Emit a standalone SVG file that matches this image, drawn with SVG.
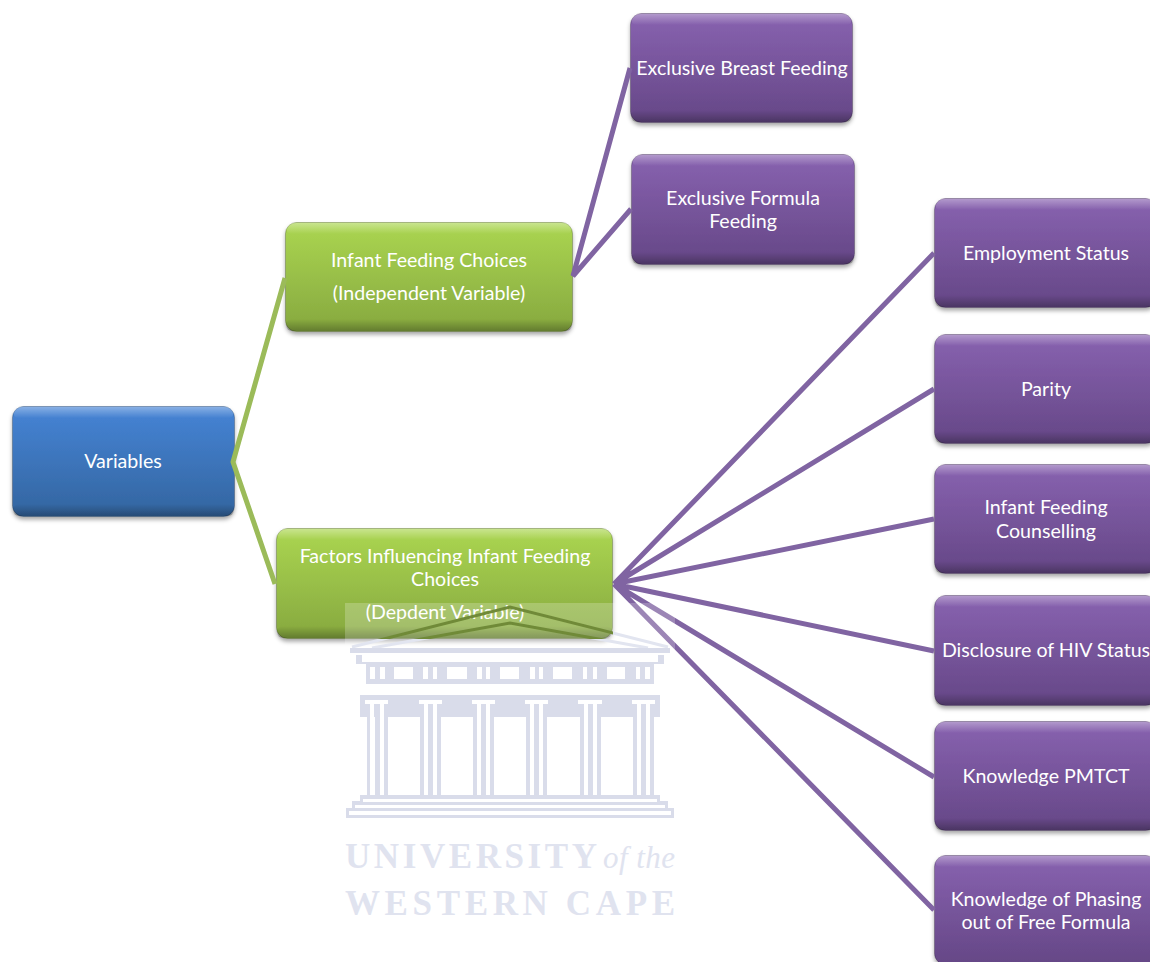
<svg xmlns="http://www.w3.org/2000/svg" width="1150" height="962" viewBox="0 0 1150 962">
<style>
text{font-family:"Lato","Open Sans","Liberation Sans",sans-serif;font-size:19.6px;fill:#fff;text-anchor:middle}
.c{fill:none;stroke-width:5;stroke-linecap:butt}
.g{stroke:#9bbb59}.p{stroke:#8064a2}
.n{stroke:#000;stroke-opacity:.22;stroke-width:1}
.hi{fill:url(#hi)}.lo{fill:url(#lo)}
.w{fill:#d9dcea}.wh{fill:#fff}
.wm{font-family:"Liberation Serif",serif;font-weight:700;fill:#e0e3ef;text-anchor:start;font-size:35px}
</style>
<defs>
<linearGradient id="blue" x1="0" y1="0" x2="0" y2="1"><stop offset="0" stop-color="#4684d6"/><stop offset="1" stop-color="#33659f"/></linearGradient>
<linearGradient id="green" x1="0" y1="0" x2="0" y2="1"><stop offset="0" stop-color="#abd651"/><stop offset="1" stop-color="#86a83f"/></linearGradient>
<linearGradient id="purple" x1="0" y1="0" x2="0" y2="1"><stop offset="0" stop-color="#8862b0"/><stop offset="1" stop-color="#654786"/></linearGradient>
<linearGradient id="hi" x1="0" y1="0" x2="0" y2="1"><stop offset="0" stop-color="#fff" stop-opacity=".35"/><stop offset="1" stop-color="#fff" stop-opacity="0"/></linearGradient>
<linearGradient id="lo" x1="0" y1="0" x2="0" y2="1"><stop offset="0" stop-color="#000" stop-opacity="0"/><stop offset="1" stop-color="#000" stop-opacity=".26"/></linearGradient>
<filter id="sh" x="-5%" y="-5%" width="110%" height="115%"><feDropShadow dx="0" dy="3" stdDeviation="2" flood-color="#000" flood-opacity=".35"/></filter>
<filter id="soft" x="-2%" y="-2%" width="104%" height="104%"><feGaussianBlur stdDeviation=".6"/></filter>
<clipPath id="onbox"><rect x="345" y="603" width="268" height="36"/></clipPath>
<clipPath id="offbox"><path d="M345 639H613V603H680V660H345Z"/></clipPath>
<g id="col"><rect x="0" y="0" width="4" height="88" class="w"/><rect x="8" y="0" width="5" height="88" class="w"/><rect x="17" y="0" width="4" height="88" class="w"/></g>
</defs>
<rect width="1150" height="962" fill="#fff"/>
<g id="variables"><rect class="n" x="12.500" y="406.500" width="222" height="110" rx="11" fill="url(#blue)" filter="url(#sh)"/><rect x="13" y="407" width="221" height="11" rx="6" class="hi"/><rect x="13" y="504" width="221" height="12" rx="6" class="lo"/><text x="123" y="468">Variables</text></g>
<g id="infant-feeding-choices"><rect class="n" x="285.500" y="222.500" width="287" height="109" rx="11" fill="url(#green)" filter="url(#sh)"/><rect x="286" y="223" width="286" height="11" rx="6" class="hi"/><rect x="286" y="319" width="286" height="12" rx="6" class="lo"/><text x="429" y="267">Infant Feeding Choices</text><text x="429" y="300">(Independent Variable)</text></g>
<g id="factors"><rect class="n" x="276.500" y="528.500" width="336" height="110" rx="11" fill="url(#green)" filter="url(#sh)"/><rect x="277" y="529" width="335" height="11" rx="6" class="hi"/><rect x="277" y="626" width="335" height="12" rx="6" class="lo"/><text x="445" y="563">Factors Influencing Infant Feeding</text><text x="445" y="586">Choices</text><text x="445" y="619">(Depdent Variable)</text></g>
<g id="exclusive-breast"><rect class="n" x="630.500" y="13.500" width="222" height="109" rx="11" fill="url(#purple)" filter="url(#sh)"/><rect x="631" y="14" width="221" height="11" rx="6" class="hi"/><rect x="631" y="110" width="221" height="12" rx="6" class="lo"/><text x="742" y="75">Exclusive Breast Feeding</text></g>
<g id="exclusive-formula"><rect class="n" x="631.500" y="154.500" width="223" height="110" rx="11" fill="url(#purple)" filter="url(#sh)"/><rect x="632" y="155" width="222" height="11" rx="6" class="hi"/><rect x="632" y="252" width="222" height="12" rx="6" class="lo"/><text x="743" y="205">Exclusive Formula</text><text x="743" y="228">Feeding</text></g>
<g id="employment"><rect class="n" x="934.500" y="198.500" width="222" height="109" rx="11" fill="url(#purple)" filter="url(#sh)"/><rect x="935" y="199" width="221" height="11" rx="6" class="hi"/><rect x="935" y="295" width="221" height="12" rx="6" class="lo"/><text x="1046" y="260">Employment Status</text></g>
<g id="parity"><rect class="n" x="934.500" y="334.500" width="222" height="109" rx="11" fill="url(#purple)" filter="url(#sh)"/><rect x="935" y="335" width="221" height="11" rx="6" class="hi"/><rect x="935" y="431" width="221" height="12" rx="6" class="lo"/><text x="1046" y="396">Parity</text></g>
<g id="counselling"><rect class="n" x="934.500" y="464.500" width="222" height="109" rx="11" fill="url(#purple)" filter="url(#sh)"/><rect x="935" y="465" width="221" height="11" rx="6" class="hi"/><rect x="935" y="561" width="221" height="12" rx="6" class="lo"/><text x="1046" y="514">Infant Feeding</text><text x="1046" y="538">Counselling</text></g>
<g id="disclosure"><rect class="n" x="934.500" y="595.500" width="222" height="110" rx="11" fill="url(#purple)" filter="url(#sh)"/><rect x="935" y="596" width="221" height="11" rx="6" class="hi"/><rect x="935" y="693" width="221" height="12" rx="6" class="lo"/><text x="1046" y="657">Disclosure of HIV Status</text></g>
<g id="pmtct"><rect class="n" x="934.500" y="721.500" width="222" height="109" rx="11" fill="url(#purple)" filter="url(#sh)"/><rect x="935" y="722" width="221" height="11" rx="6" class="hi"/><rect x="935" y="818" width="221" height="12" rx="6" class="lo"/><text x="1046" y="783">Knowledge PMTCT</text></g>
<g id="phasing"><rect class="n" x="934.500" y="855.500" width="222" height="109" rx="11" fill="url(#purple)" filter="url(#sh)"/><rect x="935" y="856" width="221" height="11" rx="6" class="hi"/><text x="1046" y="906">Knowledge of Phasing</text><text x="1046" y="929">out of Free Formula</text></g>
<g id="connectors">
<path class="c g" stroke-linejoin="round" d="M285 278L233 462L275 584"/>
<path class="c p" d="M630 68L573 276L631 209M934 253L614 584M934 389L614 584M934 519L614 584M934 651L614 584M934 777L614 584M934 910L614 584"/>
</g>
<g id="watermark">
<rect x="345" y="603" width="330" height="317" fill="#fff" opacity=".22"/>
<g filter="url(#soft)">
<g clip-path="url(#offbox)"><path d="M352 647L510 607L668 647M372 648L510 623L648 648" fill="none" stroke="#e2e5f0" stroke-width="3"/></g>
<rect x="350" y="648" width="320" height="5" class="w"/>
<g clip-path="url(#onbox)"><path d="M352 647L510 607L668 647M372 648L510 623L648 648" fill="none" stroke="#6f8a38" stroke-width="3"/></g>
<path d="M356 655H664V664H356Z" class="w"/><rect x="362" y="655" width="296" height="7" class="wh"/>
<rect x="366" y="664" width="288" height="20" class="w"/>
<g class="wh"><rect x="394" y="667" width="19" height="12"/><rect x="447" y="667" width="20" height="12"/><rect x="500" y="667" width="19" height="12"/><rect x="553" y="667" width="19" height="12"/><rect x="607" y="667" width="18" height="12"/>
<rect x="370" y="667" width="5" height="12"/><rect x="380" y="667" width="5" height="12"/><rect x="423" y="667" width="5" height="12"/><rect x="433" y="667" width="4" height="12"/><rect x="477" y="667" width="5" height="12"/><rect x="486" y="667" width="4" height="12"/><rect x="530" y="667" width="5" height="12"/><rect x="539" y="667" width="4" height="12"/><rect x="583" y="667" width="4" height="12"/><rect x="593" y="667" width="4" height="12"/><rect x="636" y="667" width="4" height="12"/><rect x="645" y="667" width="5" height="12"/></g>
<rect x="360" y="695" width="300" height="22" class="w"/>
<g class="wh"><rect x="365" y="700" width="23" height="4"/><rect x="419" y="700" width="23" height="4"/><rect x="472" y="700" width="23" height="4"/><rect x="525" y="700" width="23" height="4"/><rect x="578" y="700" width="24" height="4"/><rect x="632" y="700" width="23" height="4"/></g>
<use href="#col" x="367" y="709"/><use href="#col" x="420" y="709"/><use href="#col" x="473" y="709"/><use href="#col" x="526" y="709"/><use href="#col" x="580" y="709"/><use href="#col" x="633" y="709"/>
<g class="wh"><rect x="370" y="704" width="4" height="94"/><rect x="380" y="704" width="4" height="94"/><rect x="424" y="704" width="4" height="94"/><rect x="433" y="704" width="4" height="94"/><rect x="477" y="704" width="4" height="94"/><rect x="486" y="704" width="4" height="94"/><rect x="530" y="704" width="4" height="94"/><rect x="539" y="704" width="4" height="94"/><rect x="584" y="704" width="4" height="94"/><rect x="593" y="704" width="4" height="94"/><rect x="637" y="704" width="4" height="94"/><rect x="646" y="704" width="4" height="94"/></g>
<rect x="360" y="795" width="300" height="6" class="w"/><rect x="352" y="801" width="316" height="7" class="w"/><rect x="346" y="808" width="328" height="10" class="w"/>
<rect x="363" y="799" width="294" height="3" class="wh"/><rect x="355" y="805" width="310" height="3" class="wh"/><rect x="349" y="811" width="322" height="4" class="wh"/>
</g>
<text class="wm" x="345" y="868" textLength="252" lengthAdjust="spacing">UNIVERSITY</text>
<text class="wm" x="603" y="868" textLength="72" lengthAdjust="spacing" style="font-style:italic;font-size:31px;font-weight:400">of the</text>
<text class="wm" x="345" y="915" textLength="330" lengthAdjust="spacing">WESTERN CAPE</text>
</g>
</svg>
